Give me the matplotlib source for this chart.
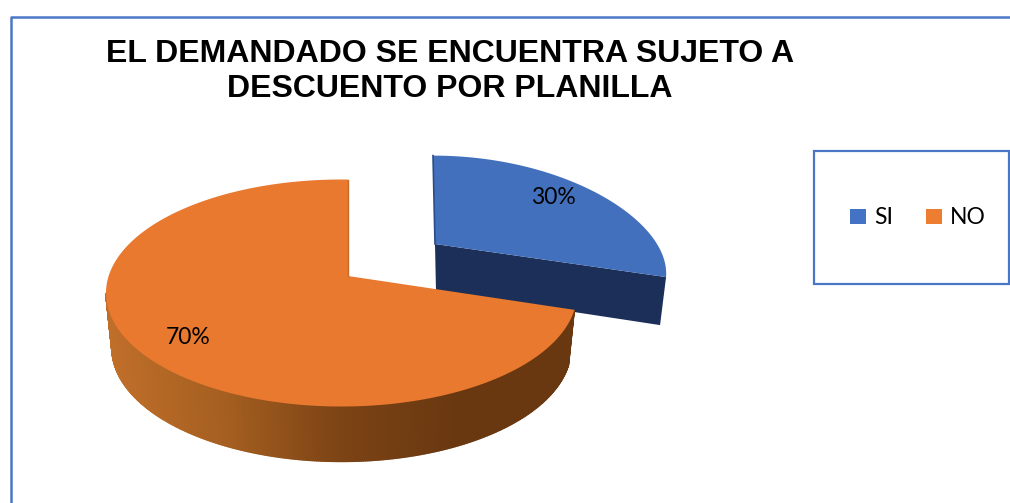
import numpy as np
import matplotlib
matplotlib.use('Agg')
import matplotlib.pyplot as plt
from matplotlib.colors import LinearSegmentedColormap
from matplotlib.patches import Patch, Polygon, Rectangle

title = 'EL DEMANDADO SE ENCUENTRA SUJETO A\nDESCUENTO POR PLANILLA'
categories = ['SI', 'NO']
values = [30, 70]
labels = ['30%', '70%']

BLUE = '#4472c4'
ORANGE = '#ed7d31'
FRAME = '#4a76c6'


def project(theta, cx, cy, a, b, k, kx=0.0):
    # theta is clockwise from 12 o'clock, flattened a bit for the 3d tilt
    u = np.sin(theta)
    v = np.cos(theta)
    return cx + a * u / (1 + kx * v), cy - b * v / (1 + k * v)


def on_rim(theta, px, py, ex, ey, a, b, squash=0.46):
    # ray from the apex (px, py) out to the ellipse, the apex is not at the ellipse centre
    dx = np.sin(theta)
    dy = -np.cos(theta) * squash
    qa = (dx / a) ** 2 + (dy / b) ** 2
    qb = 2 * ((px - ex) * dx / a ** 2 + (py - ey) * dy / b ** 2)
    qc = ((px - ex) / a) ** 2 + ((py - ey) / b) ** 2 - 1
    t = (-qb + np.sqrt(qb ** 2 - 4 * qa * qc)) / (2 * qa)
    return px + t * dx, py + t * dy


fig = plt.figure(figsize=(10.10, 5.03), dpi=100)
ax = fig.add_axes([0, 0, 1, 1])
ax.set_xlim(0, 1010)
ax.set_ylim(503, 0)
ax.axis('off')

# outer frame, runs off the right and the bottom of the picture
ax.plot([10.5, 10.5, 1010], [503, 16.5, 16.5], color=FRAME, lw=1.8, solid_capstyle='butt')

ax.text(450, 71.5, title, ha='center', va='center', family='Liberation Sans', weight='bold',
        fontsize=23, linespacing=1.25, color='black')

total = sum(values)
split = 2 * np.pi * values[0] / total

# blue slice, pulled out
th = np.linspace(0, split, 80)
bx, by = project(th, 433, 244, 224, 102, 0.154, 0.278)
depth = 47
ax.add_patch(Polygon([(435, 244), (bx[-1], by[-1]), (bx[-1] - 6, by[-1] + depth + 1), (436, 244 + depth)],
                     closed=True, fc='#1b2f58', ec='none', zorder=2))
ax.add_patch(Polygon(np.column_stack([np.r_[435, bx], np.r_[244, by]]), closed=True, fc='#4270bd', ec='none', zorder=3))
ax.plot([bx[0], 435], [by[0], 244], color='#2c4c85', lw=1.2, zorder=3)

# orange slice, wall first with the shading going dark to the right
px, py = 348, 276
ex, ey, a, b = 341.5, 293, 235.5, 113.5
wall = LinearSegmentedColormap.from_list('wall', ['#c06f2a', '#a55f20', '#7c4315', '#693810', '#693810'])
# the wall stops at the leftmost point of the rim, about 261 degrees round
th = np.linspace(split, 1.452 * np.pi, 400)
ox, oy = on_rim(th, px, py, ex, ey, a, b)
lx = ex + (ox - ex) * 0.975
ly = oy + 55
for i in range(len(th) - 1):
    col = wall((ox[i] - 106) / (577 - 106))
    ax.add_patch(Polygon([(ox[i], oy[i]), (ox[i + 1], oy[i + 1]), (lx[i + 1], ly[i + 1]), (lx[i], ly[i])],
                         closed=True, fc=col, ec=col, lw=1.0, zorder=4))

th = np.linspace(split, 2 * np.pi, 2000)
ox, oy = on_rim(th, px, py, ex, ey, a, b)
ax.add_patch(Polygon(np.column_stack([np.r_[px, ox], np.r_[py, oy]]), closed=True, fc='#e8792e', ec='none', zorder=5))
ax.plot([ox[-1], px], [oy[-1], py], color='#c8692a', lw=1.0, zorder=5)

ax.text(553, 197, labels[0], ha='center', va='center', family='Lato', fontsize=16.5, color='black', zorder=6)
ax.text(188, 337, labels[1], ha='center', va='center', family='Lato', fontsize=16.5, color='black', zorder=6)

# legend box
ax.add_patch(Rectangle((814, 150.5), 195, 133.5, fc='white', ec=FRAME, lw=1.6, zorder=1))
handles = [Patch(fc=BLUE, ec='none'), Patch(fc=ORANGE, ec='none')]
ax.legend(handles, categories, ncol=2, loc='center', bbox_to_anchor=(918, 218), bbox_transform=ax.transData,
          frameon=False, handlelength=0.68, handleheight=0.68, handletextpad=0.35, columnspacing=1.45,
          prop={'family': 'Lato', 'size': 16.5})

fig.savefig('out.png', dpi=100)
